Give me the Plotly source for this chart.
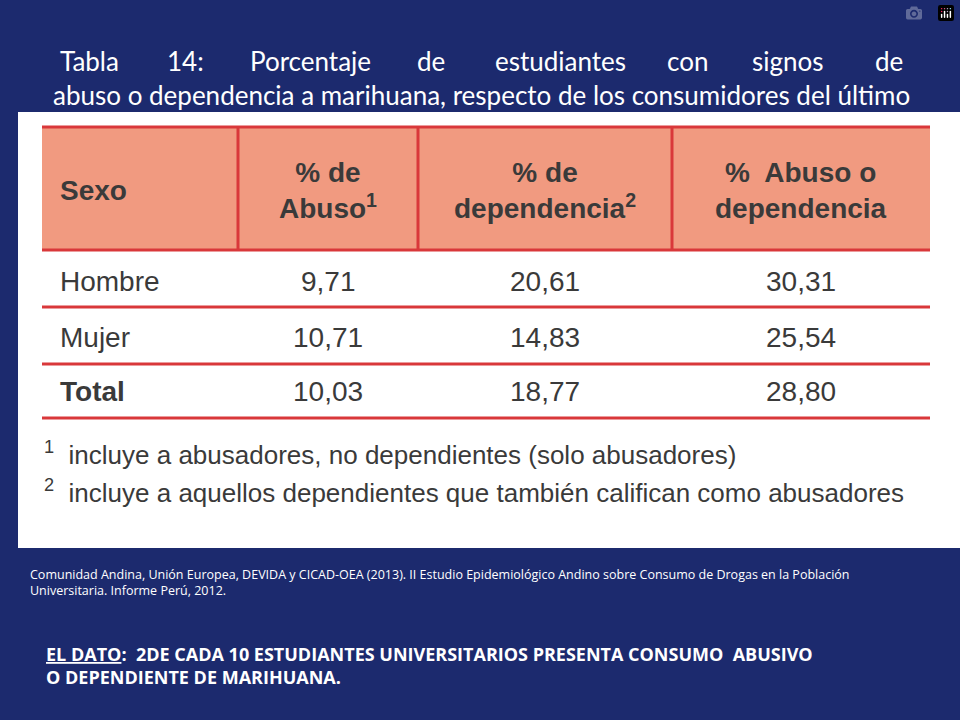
import plotly.graph_objects as go

titulo_1 = ["Tabla", "14:", "Porcentaje", "de", "estudiantes", "con", "signos", "de"]
titulo_2 = "abuso o dependencia a marihuana, respecto de los consumidores del último"
encabezados = ["Sexo", "% de<br>Abuso<sup>1</sup>", "% de<br>dependencia<sup>2</sup>", "%  Abuso o<br>dependencia"]
sexo = ["Hombre", "Mujer", "<b>Total</b>"]
abuso = ["9,71", "10,71", "10,03"]
dependencia = ["20,61", "14,83", "18,77"]
abuso_o_dep = ["30,31", "25,54", "28,80"]
notas = ["<sup>1</sup>  incluye a abusadores, no dependientes (solo abusadores)",
         "<sup>2</sup>  incluye a aquellos dependientes que también califican como abusadores"]
fuente = ("Comunidad Andina, Unión Europea, DEVIDA y CICAD-OEA (2013). II Estudio Epidemiológico Andino sobre Consumo de Drogas en la Población<br>"
          "Universitaria. Informe Perú, 2012.")
dato = "<u>EL DATO</u>:  2DE CADA 10 ESTUDIANTES UNIVERSITARIOS PRESENTA CONSUMO  ABUSIVO<br>O DEPENDIENTE DE MARIHUANA."

RED = "#d9383a"
TXT = "#3a3a3a"
fig = go.Figure()
shapes = [
    dict(type="rect", x0=0, x1=960, y0=0, y1=720, fillcolor="#1c2a6e", line_width=0, layer="below"),
    dict(type="rect", x0=18, x1=960, y0=112, y1=548, fillcolor="white", line_width=0),
    dict(type="rect", x0=42, x1=930, y0=127, y1=250, fillcolor="#f19a80", line_width=0),
]
for y in [127, 250, 307, 364, 418]:
    shapes.append(dict(type="line", x0=42, x1=930, y0=y, y1=y, line=dict(color=RED, width=3)))
for x in [238, 418, 672]:
    shapes.append(dict(type="line", x0=x, x1=x, y0=127, y1=250, line=dict(color=RED, width=3)))

ann = []
# justified first title line
word_x = [58, 165, 248, 415, 493, 665, 750, 905]
for i, w in enumerate(titulo_1):
    ann.append(dict(x=word_x[i], y=61, text=w, showarrow=False,
                    xanchor="right" if i == len(titulo_1) - 1 else "left",
                    font=dict(family="Lato", size=26, color="white")))
ann.append(dict(x=481, y=95, text=titulo_2, showarrow=False, xanchor="center",
                font=dict(family="Lato", size=26, color="white")))

centers = [58, 328, 545, 801]
for i, h in enumerate(encabezados):
    ann.append(dict(x=centers[i], y=190, text="<b>" + h + "</b>", showarrow=False,
                    xanchor="left" if i == 0 else "center",
                    font=dict(family="Liberation Sans", size=28, color=TXT)))
rows_y = [281, 337, 391]
for r in range(3):
    vals = [sexo[r], abuso[r], dependencia[r], abuso_o_dep[r]]
    for i, v in enumerate(vals):
        ann.append(dict(x=centers[i], y=rows_y[r], text=v, showarrow=False,
                        xanchor="left" if i == 0 else "center",
                        font=dict(family="Liberation Sans", size=28, color=TXT)))
for i, n in enumerate(notas):
    ann.append(dict(x=42, y=453 + 38 * i, text=n, showarrow=False, xanchor="left",
                    font=dict(family="Liberation Sans", size=26, color=TXT)))
ann.append(dict(x=28, y=582, text=fuente, showarrow=False, xanchor="left", align="left",
                font=dict(family="Open Sans", size=12.5, color="white")))
ann.append(dict(x=44, y=665, text="<b>" + dato + "</b>", showarrow=False, xanchor="left", align="left",
                font=dict(family="Open Sans", size=18, color="white")))

fig.update_layout(width=960, height=720, margin=dict(l=0, r=0, t=0, b=0),
                  shapes=shapes, annotations=ann, showlegend=False,
                  paper_bgcolor="#1c2a6e", plot_bgcolor="#1c2a6e",
                  xaxis=dict(range=[0, 960], visible=False, fixedrange=True),
                  yaxis=dict(range=[720, 0], visible=False, fixedrange=True))
fig.write_html("out.html", post_script="document.body.style.margin='0';")
